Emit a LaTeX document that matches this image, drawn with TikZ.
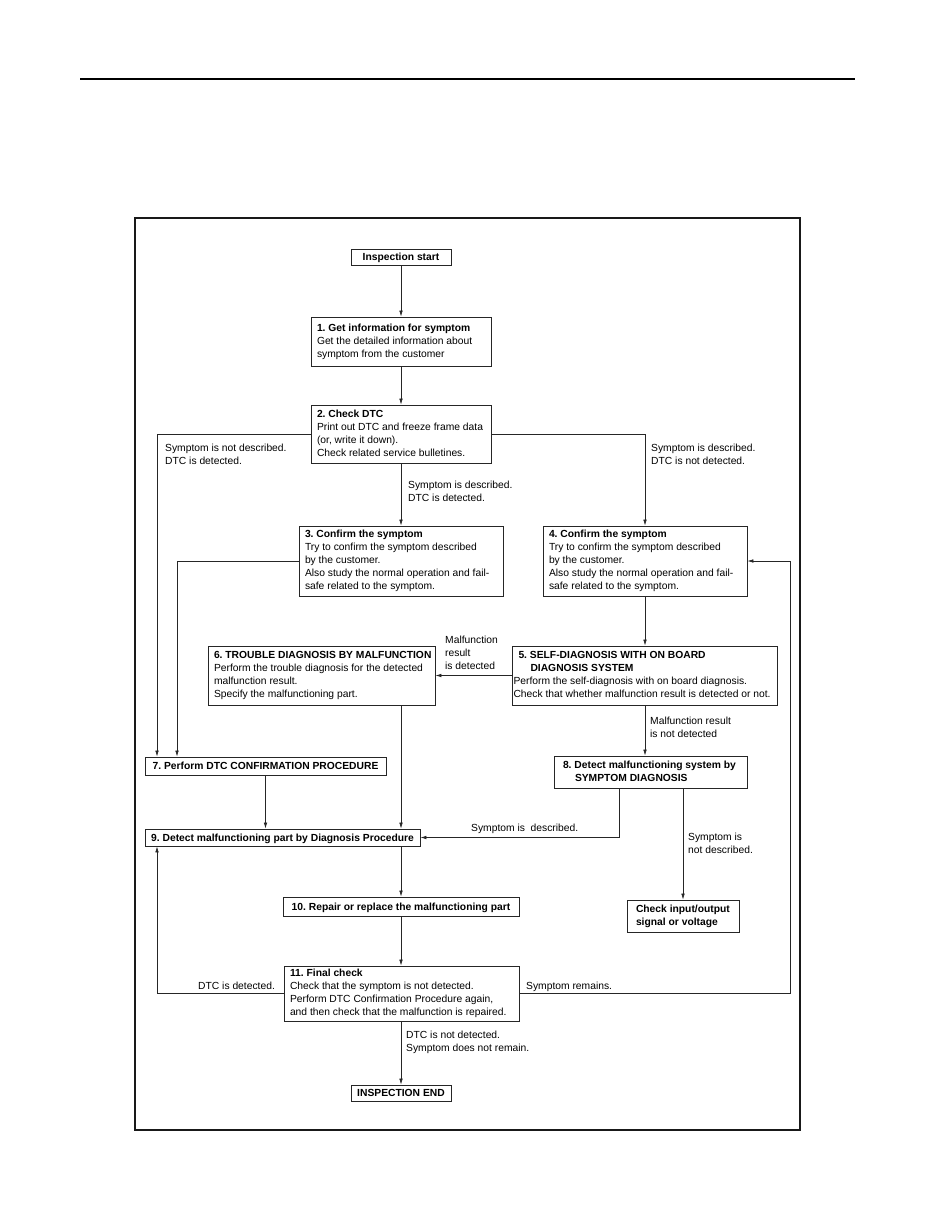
\documentclass[tikz,border=0pt]{standalone}
\usepackage{fontspec}
\setmainfont{Liberation Sans}
\usetikzlibrary{arrows.meta}
\frenchspacing
\newcommand{\boxtxt}[2]{\makebox[#1][l]{\begin{tabular}{@{}l@{}}#2\end{tabular}}}
\begin{document}
\begin{tikzpicture}[x=1pt,y=-1pt,
  every node/.style={font=\fontsize{10.3}{13}\selectfont},
  box/.style={draw=black!85, line width=0.8pt, inner xsep=6pt, inner ysep=0pt, anchor=center},
  sbox/.style={draw=black!85, line width=0.8pt, inner sep=0pt, align=center, anchor=center, text depth=0pt, font=\fontsize{10.3}{13}\selectfont\bfseries},
  lbl/.style={inner sep=0pt, anchor=north west},
  con/.style={line width=0.7pt, draw=black!85},
  arr/.style={con, -{Latex[length=6pt,width=3.6pt]}}
]
\fill[white] (0,0) rectangle (935,1210);
\useasboundingbox (0,0) rectangle (935,1210);

% page rule and frame
\draw[line width=2.5pt] (80,79) -- (855,79);
\draw[line width=1.2pt, draw=black!90] (135,218) rectangle (800,1130);

% nodes
\node[sbox, minimum width=100pt, minimum height=16pt] (start) at (401,257) {Inspection start};
\node[box, minimum height=49pt] (n1) at (401,341.5) {\boxtxt{168pt}{\textbf{1. Get information for symptom}\\Get the detailed information about\\symptom from the customer}};
\node[box, minimum height=58pt] (n2) at (401,434) {\boxtxt{168pt}{\textbf{2. Check DTC}\\Print out DTC and freeze frame data\\(or, write it down).\\Check related service bulletines.}};
\node[box, minimum height=70pt] (n3) at (401,561) {\boxtxt{192pt}{\textbf{3. Confirm the symptom}\\Try to confirm the symptom described\\by the customer.\\Also study the normal operation and fail-\\safe related to the symptom.}};
\node[box, minimum height=70pt] (n4) at (645,561) {\boxtxt{192pt}{\textbf{4. Confirm the symptom}\\Try to confirm the symptom described\\by the customer.\\Also study the normal operation and fail-\\safe related to the symptom.}};
\node[box, inner xsep=1.5pt, minimum height=59pt] (n5) at (644.5,675.5) {\boxtxt{262pt}{\hspace*{5pt}\textbf{5. SELF-DIAGNOSIS WITH ON BOARD}\\\hspace*{17pt}\textbf{DIAGNOSIS SYSTEM}\\Perform the self-diagnosis with on board diagnosis.\\Check that whether malfunction result is detected or not.}};
\node[box, minimum height=59pt] (n6) at (321.5,675.5) {\boxtxt{215pt}{\textbf{6. TROUBLE DIAGNOSIS BY MALFUNCTION}\\Perform the trouble diagnosis for the detected\\malfunction result.\\Specify the malfunctioning part.}};
\node[sbox, minimum width=241pt, minimum height=18pt] (n7) at (265.5,766) {7. Perform DTC CONFIRMATION PROCEDURE};
\node[box, inner xsep=9pt, minimum height=32pt] (n8) at (650.5,772) {\boxtxt{175pt}{\textbf{8. Detect malfunctioning system by}\\\hspace*{12pt}\textbf{SYMPTOM DIAGNOSIS}}};
\node[sbox, minimum width=275pt, minimum height=17pt] (n9) at (282.5,837.5) {9. Detect malfunctioning part by Diagnosis Procedure};
\node[sbox, minimum width=236pt, minimum height=19pt] (n10) at (401,906.5) {10. Repair or replace the malfunctioning part};
\node[box, minimum height=55pt] (n11) at (401.5,993.5) {\boxtxt{223pt}{\textbf{11. Final check}\\Check that the symptom is not detected.\\Perform DTC Confirmation Procedure again,\\and then check that the malfunction is repaired.}};
\node[box, inner xsep=9pt, minimum height=32pt] (chk) at (683,916) {\boxtxt{94pt}{\textbf{Check input/output}\\\textbf{signal or voltage}}};
\node[sbox, minimum width=100pt, minimum height=16pt] (end) at (401,1093) {INSPECTION END};

% helper coordinates for vertical runs
\coordinate (xl) at (157,0);
\coordinate (x3) at (177,0);
\coordinate (xs) at (619,0);
\coordinate (xr) at (790,0);

% connectors
\draw[arr] (start) -- (n1);
\draw[arr] (n1) -- (n2);
\draw[arr] (n2) -- (n3);
\draw[arr] (n2.west) -| (xl |- n7.north);
\draw[arr] (n3.west) -| (x3 |- n7.north);
\draw[arr] (n2.east) -| (n4.north);
\draw[arr] (n4.south) -- (n4.south |- n5.north);
\draw[arr] (n5.west) -- (n6.east);
\draw[arr] (n5.south -| n4.south) -- (n4.south |- n8.north);
\draw[arr] (n7.south) -- (n7.south |- n9.north);
\draw[arr] (n6.south -| n1.south) -- (n1.south |- n9.north);
\draw[arr] (xs |- n8.south) |- (n9.east);
\draw[arr] (chk.north |- n8.south) -- (chk.north);
\draw[arr] (n9.south -| n1.south) -- (n10.north -| n1.south);
\draw[arr] (n10.south -| n1.south) -- (n11.north -| n1.south);
\draw[arr] (n11.south -| n1.south) -- (end.north -| n1.south);
\draw[arr] (n11.west) -| (xl |- n9.south);
\draw[arr] (n11.east) -| (xr |- n4.east) -- (n4.east);

% labels
\node[lbl] (l1) at (165,442.5) {\begin{tabular}{@{}l@{}}Symptom is not described.\\DTC is detected.\end{tabular}};
\node[lbl] (l2) at (651,442.5) {\begin{tabular}{@{}l@{}}Symptom is described.\\DTC is not detected.\end{tabular}};
\node[lbl] (l3) at (408,479.5) {\begin{tabular}{@{}l@{}}Symptom is described.\\DTC is detected.\end{tabular}};
\node[lbl] (l4) at (445,634.5) {\begin{tabular}{@{}l@{}}Malfunction\\result\\is detected\end{tabular}};
\node[lbl] (l5) at (650,715.5) {\begin{tabular}{@{}l@{}}Malfunction result\\is not detected\end{tabular}};
\node[lbl] (l6) at (471,822.5) {\begin{tabular}{@{}l@{}}Symptom is\ \ described.\end{tabular}};
\node[lbl] (l7) at (688,831.5) {\begin{tabular}{@{}l@{}}Symptom is\\not described.\end{tabular}};
\node[lbl] (l8) at (198,980.5) {\begin{tabular}{@{}l@{}}DTC is detected.\end{tabular}};
\node[lbl] (l9) at (526,980.5) {\begin{tabular}{@{}l@{}}Symptom remains.\end{tabular}};
\node[lbl] (l10) at (406,1029.5) {\begin{tabular}{@{}l@{}}DTC is not detected.\\Symptom does not remain.\end{tabular}};
\end{tikzpicture}
\end{document}
